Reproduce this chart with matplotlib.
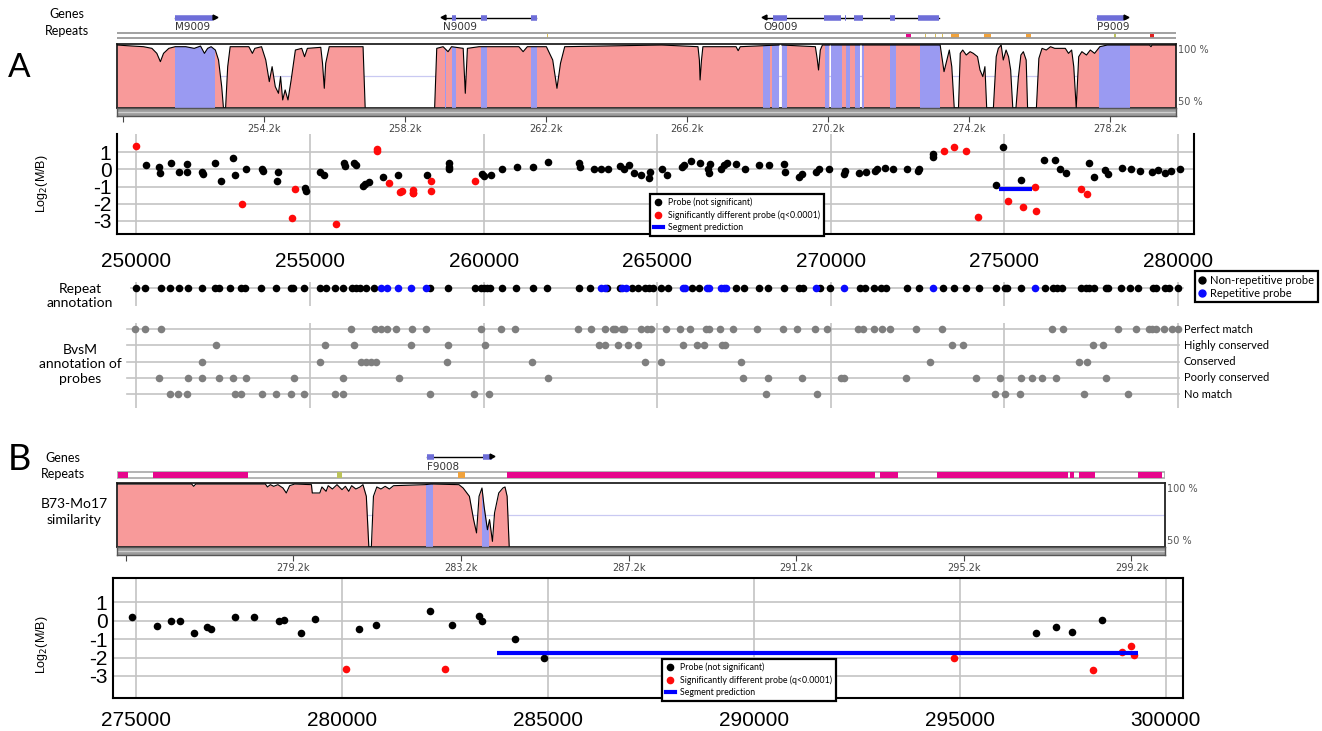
import matplotlib
matplotlib.use("Agg")
import matplotlib.pyplot as plt
from matplotlib.lines import Line2D
from matplotlib.patches import Rectangle
from matplotlib.path import Path
from matplotlib.transforms import blended_transform_factory
import numpy as np

plt.rcParams["font.family"] = ["Liberation Sans", "DejaVu Sans"]
plt.rcParams["axes.unicode_minus"] = False

nan = float("nan")

# ---------------- panel A : genome browser (kb) ----------------
genes_a = ["M9009", "N9009", "O9009", "P9009"]
gene_start_a = [251.68, 259.28, 268.37, 277.82]
gene_end_a = [252.81, 261.92, 273.34, 278.66]
gene_strand_a = [1, -1, -1, 1]
gene_exons_a = [
    [(251.68, 252.75)],
    [(259.53, 259.65), (260.36, 260.53), (261.77, 261.94)],
    [(268.64, 269.04), (270.08, 270.58), (270.68, 270.72), (270.94, 271.18),
     (271.96, 272.11), (272.76, 273.34)],
    [(277.82, 278.60)],
]
repeat_start_a = [262.23, 272.40, 272.94, 273.23, 273.42, 273.69, 274.63, 275.82, 278.32, 279.32]
repeat_end_a = [262.27, 272.56, 272.97, 273.26, 273.45, 273.91, 274.83, 275.95, 278.36, 279.44]
repeat_class_a = ["low", "mag", "low", "low", "low", "ora", "ora", "ora", "grn", "red"]

sim_a = [
    (250.04, 99.2), (250.30, 98.7), (250.78, 97.9), (251.02, 96.6), (251.16, 92.7),
    (251.26, 86.2), (251.35, 92.7), (251.50, 96.6), (251.68, 97.9), (251.98, 97.9),
    (252.22, 96.6), (252.40, 98.4), (252.51, 92.7), (252.60, 96.6), (252.70, 97.9),
    (252.82, 95.3), (252.91, 87.5), (253.00, 66.7), (253.05, 50), (253.11, 50),
    (253.17, 82.3), (253.24, 97.9), (253.77, 97.9), (253.87, 92.7), (253.94, 96.6),
    (254.13, 97.9), (254.25, 87.5), (254.35, 70.6), (254.43, 82.3), (254.52, 66.7),
    (254.61, 61.5), (254.67, 74.5), (254.73, 56.3), (254.80, 64.1), (254.88, 56.3),
    (254.97, 71.9), (255.09, 95.3), (255.27, 96.6), (255.35, 90.1), (255.43, 96.6),
    (255.81, 97.4), (255.86, 84.9), (255.91, 65.4), (255.95, 84.9), (256.05, 97.9),
    (257.01, 97.9), (257.07, 50), (258.0, nan), (259.04, 50), (259.10, 96.6),
    (259.28, 97.9), (259.42, 94.0), (259.52, 97.9), (259.85, 96.6), (259.91, 61.5),
    (259.97, 96.6), (260.30, 97.9), (261.43, 97.9), (261.55, 94.0), (261.67, 97.9),
    (262.21, 97.9), (262.39, 87.5), (262.51, 65.4), (262.61, 84.9), (262.73, 97.9),
    (265.48, 99.2), (266.51, 97.9), (266.55, 87.5), (266.57, 71.9), (266.61, 87.5),
    (266.65, 97.9), (267.59, 97.9), (267.65, 94.8), (267.71, 97.9), (268.81, 99.2),
    (268.85, nan), (268.89, 99.2), (269.84, 97.9), (269.89, 88.8), (269.93, 79.7),
    (269.98, 95.3), (270.04, 99.2), (270.24, 99.2), (270.26, nan), (270.28, 99.2),
    (271.11, 99.2), (271.13, nan), (271.16, 99.2), (273.09, 99.2), (273.38, 99.2),
    (273.49, 78.4), (273.57, 87.5), (273.64, 95.3), (273.71, 82.3), (273.78, 50),
    (273.90, 50), (273.95, 92.7), (274.02, 95.3), (274.12, 91.4), (274.23, 94.0),
    (274.32, 92.7), (274.44, 90.1), (274.51, 79.7), (274.59, 74.5), (274.65, 82.3),
    (274.70, 50), (274.89, 50), (274.97, 90.1), (275.03, 96.6), (275.11, 99.2),
    (275.17, 87.5), (275.25, 95.3), (275.32, 90.1), (275.38, 79.7), (275.44, 50),
    (275.53, 50), (275.60, 74.5), (275.67, 91.4), (275.74, 94.0), (275.82, 87.5),
    (275.86, 50), (276.11, 50), (276.18, 88.8), (276.27, 96.6), (276.39, 95.3),
    (276.51, 97.9), (276.63, 96.6), (276.93, 96.6), (277.02, 92.7), (277.11, 95.3),
    (277.17, 82.3), (277.24, 50), (277.31, 90.1), (277.40, 94.0), (277.53, 91.4),
    (277.64, 95.3), (277.76, 92.7), (277.91, 97.9), (278.12, 99.2), (279.32, 99.2),
    (279.36, 97.9), (279.39, 99.2), (280.07, 99.2),
]
exon_bands_a = [
    (251.68, 252.81), (259.33, 259.36), (259.53, 259.65), (260.36, 260.53),
    (261.77, 261.94), (268.35, 268.54), (268.62, 268.81), (268.89, 269.03),
    (270.10, 270.24), (270.28, 270.59), (270.71, 270.81), (270.97, 271.11),
    (271.16, 271.22), (271.96, 272.13), (272.81, 273.38), (277.89, 278.77),
]
gaps_a = [(257.07, 259.04)]
sim_ticks_a = [250.2, 254.2, 258.2, 262.2, 266.2, 270.2, 274.2, 278.2]
sim_labels_a = ["", "254.2k", "258.2k", "262.2k", "266.2k", "270.2k", "274.2k", "278.2k"]

# ---------------- panel A : probes ----------------
ns_x_a = [250265, 250660, 250680, 250990, 251230, 251470, 251470, 251890, 251930, 252280,
          252430, 252790, 252830, 253160, 253620, 253650, 254090, 254060, 254850, 254890,
          255300, 255400, 255990, 256010, 256280, 256320, 256520, 256580, 256700, 257100,
          257530, 258380, 259000, 259000, 259000, 259960, 260020, 260200, 260520, 260950,
          261430, 261850, 262760, 262780, 263180, 263380, 263580, 263940, 264030, 264200,
          264320, 264540, 264750, 264790,
          265145, 265270, 265700, 265760, 265975, 266220, 266470, 266490, 266510, 266830,
          266920, 267000, 267260, 267520, 267930, 268220, 268660, 268680, 269090, 269170,
          269560, 269660, 269960, 270370, 270420, 270820, 271000, 271280, 271340, 271550,
          271790, 272200, 272510, 272550, 272950, 272950, 274960, 274760, 275490, 276150,
          276450, 276590, 276760, 277430, 277590, 277900, 277990, 278380, 278650, 278890,
          279260, 279410, 279630, 279810, 280050]
ns_y_a = [0.25, 0.15, -0.2, 0.35, -0.15, 0.3, -0.15, -0.15, -0.25, 0.4,
          -0.65, 0.65, -0.3, 0.0, 0.0, -0.1, -0.15, -0.7, -1.1, -1.25,
          -0.15, -0.35, 0.4, 0.2, 0.35, 0.25, -0.95, -0.85, -0.72, -0.45,
          -0.35, -0.3, 0.35, 0.15, 0.05, -0.25, -0.4, -0.35, 0.05, 0.15,
          0.15, 0.45, 0.35, 0.15, 0.05, 0.05, 0.05, 0.2, 0.05, 0.25,
          -0.2, -0.3, -0.5, -0.15,
          0.05, -0.35, 0.15, 0.25, 0.5, 0.35, 0.05, -0.2, 0.3, 0.05,
          0.25, 0.4, 0.3, 0.0, 0.25, 0.25, 0.3, -0.15, -0.45, -0.25,
          -0.15, 0.0, 0.0, -0.25, -0.1, -0.2, -0.15, -0.1, 0.05, 0.1,
          0.05, 0.05, -0.1, 0.05, 0.9, 0.75, 1.3, -0.9, -0.6, 0.55,
          0.55, 0.0, -0.2, 0.4, -0.45, -0.05, -0.25, 0.1, 0.0, -0.1,
          -0.15, -0.05, -0.2, -0.1, 0.05]
sig_x_a = [250000, 253050, 254480, 254560, 255750, 256920, 256920, 257280, 257600, 257650,
           257980, 257980, 257980, 258500, 258500, 259750, 273260, 273540, 273900, 274230,
           275090, 275540, 275880, 275900, 277200, 277370]
sig_y_a = [1.35, -2.0, -2.8, -1.15, -3.15, 1.2, 1.05, -0.8, -1.3, -1.25,
           -1.2, -1.35, -1.4, -0.7, -1.25, -0.65, 1.05, 1.3, 1.05, -2.75,
           -1.85, -2.2, -1.0, -2.4, -1.15, -1.45]
segment_a = (274850, 275790, -1.15)
probe_ticks_a = [250000, 255000, 260000, 265000, 270000, 275000, 280000]

# repeat annotation of the probes
nonrep_x_a = [249980, 250241, 250699, 250964, 251241, 251482, 251904, 252253, 252374, 252711,
              253013, 253133, 253579, 254037, 254459, 254519, 254820, 255302, 255459, 255724,
              255965, 256206, 256326, 256447, 256603, 256844, 258459, 258977, 259761, 259917,
              260002, 260086, 260182, 260544, 260929, 261411, 261833, 262737, 263074, 263556,
              263918, 264279, 264460, 264641, 264761, 264882,
              265120, 265303, 265998, 266218, 267255, 267499, 267926, 268194, 268658, 269085,
              269207, 269695, 269976, 270854, 270976, 271244, 271440, 271586, 272196, 272538,
              273233, 273538, 273880, 274270, 274758, 275002, 275063, 275490, 276161, 276405,
              276527, 276649, 277198, 277344, 277442, 277564, 277930, 277991, 278357, 278601,
              278845, 279272, 279370, 279614, 279736, 280004]
rep_x_a = [257049, 257230, 257531, 257917, 258339, 263376, 263496, 263978, 264099,
           265730, 265791, 266438, 266486, 266828, 266926, 266974, 269573, 270366, 272928,
           275893]

# B vs M annotation of the probes
bvsm_rows = ["Perfect match", "Highly conserved", "Conserved", "Poorly conserved", "No match"]
perfect_x = [249976, 250241, 250699, 256182, 256869, 257049, 257230, 257471, 257953, 258339,
             259917, 260508, 260905, 262713, 263098, 263496, 263713, 263797, 263978, 264038,
             264520, 264701, 264822, 265242, 265669, 265950, 266401, 266486, 266804, 267170,
             267865, 268621, 269024, 269536, 269902, 270793, 270915, 271244, 271464, 271708,
             272464, 273196, 276368, 276686, 278272, 278784, 279150, 279248, 279370, 279601,
             279821, 280004]
highly_x = [252290, 255423, 256266, 257917, 258977, 260038, 263315, 263496, 263858, 264159,
            264460, 265730, 266157, 266340, 266852, 266950, 273501, 273806, 277540, 277832]
conserved_x = [251904, 255302, 256471, 256628, 256748, 256893, 258941, 261387, 264641,
               265120, 267414, 272867, 277137, 277381]
poorly_x = [250663, 251482, 251904, 252374, 252772, 253169, 254543, 255941, 257567, 261845,
            267462, 268194, 269183, 270305, 270390, 272172, 274172, 274880, 275490, 275795,
            276076, 276490, 277930]
nomatch_x = [250964, 251205, 251446, 252832, 253013, 253615, 254037, 254459, 254820, 255724,
             255965, 258471, 259736, 260158, 268146, 269610, 274721, 275026, 275453, 277296,
             278564]

# ---------------- panel B : genome browser (kb) ----------------
genes_b = ["F9008"]
gene_start_b = [282.39]
gene_end_b = [283.95]
gene_strand_b = [1]
gene_exons_b = [[(282.39, 282.56), (283.72, 283.95)]]
repeat_start_b = [275.01, 275.84, 280.24, 283.13, 284.30, 293.19, 294.57, 297.74, 297.94, 299.35]
repeat_end_b = [275.26, 278.11, 280.36, 283.30, 293.08, 293.64, 297.68, 297.84, 298.34, 299.93]
repeat_class_b = ["mag", "mag", "grn", "ora", "mag", "mag", "mag", "mag", "mag", "mag"]

sim_b = [
    (274.99, 99.2), (276.77, 99.2), (276.82, 97.4), (276.87, 99.2), (278.53, 99.2),
    (278.58, 96.9), (278.65, 98.7), (278.73, 97.4), (278.83, 98.7), (278.95, 96.1),
    (279.03, 92.2), (279.11, 97.9), (279.23, 99.2), (279.63, 98.7), (279.65, 92.2),
    (279.83, 92.2), (279.88, 96.9), (279.98, 93.5), (280.03, 97.9), (280.13, 95.3),
    (280.24, 98.7), (280.36, 94.8), (280.44, 97.4), (280.52, 93.5), (280.59, 97.9),
    (280.69, 95.3), (280.79, 96.9), (280.86, 98.7), (280.94, 89.6), (281.00, 50),
    (281.06, 50), (281.11, 89.6), (281.19, 96.9), (281.29, 95.3), (281.39, 97.4),
    (281.49, 95.3), (281.59, 97.9), (282.34, 98.7), (282.49, 99.2), (283.15, 98.7),
    (283.25, 96.1), (283.40, 89.6), (283.50, 71.4), (283.57, 61.0), (283.63, 89.6),
    (283.70, 96.1), (283.75, 81.8), (283.83, 63.5), (283.88, 71.4), (283.95, 54.4),
    (284.00, 76.6), (284.10, 92.2), (284.20, 96.1), (284.25, 96.9), (284.30, 89.6),
    (284.35, 50), (292.0, nan),
]
exon_bands_b = [(282.37, 282.52), (283.70, 283.86)]
gaps_b = [(284.35, 300.0)]
sim_ticks_b = [275.2, 279.2, 283.2, 287.2, 291.2, 295.2, 299.2]
sim_labels_b = ["", "279.2k", "283.2k", "287.2k", "291.2k", "295.2k", "299.2k"]

# ---------------- panel B : probes ----------------
ns_x_b = [274888, 275510, 275847, 276071, 276397, 276724, 276826, 277397, 277856, 278478,
          278590, 278998, 279335, 280406, 280834, 282130, 282670, 283333, 283405, 284200,
          284914, 296860, 297340, 297730, 298450]
ns_y_b = [0.18, -0.3, 0.0, 0.0, -0.65, -0.36, -0.44, 0.18, 0.18, -0.02,
          0.05, -0.69, 0.11, -0.44, -0.24, 0.53, -0.24, 0.27, 0.0, -0.98,
          -2.02, -0.69, -0.36, -0.62, 0.04]
sig_x_b = [280100, 282500, 294860, 298240, 298940, 299160, 299240]
sig_y_b = [-2.62, -2.62, -2.05, -2.66, -1.7, -1.38, -1.87]
segment_b = (283770, 299340, -1.75)
probe_ticks_b = [275000, 280000, 285000, 290000, 295000, 300000]

legend_labels = ["Probe (not significant)", "Significantly different probe (q<0.0001)",
                 "Segment prediction"]

# ---------------- styling ----------------
PINK = "#f89a9a"
BAND = "#9a9af2"
EXON = "#6e6ed8"
GRID = "#c4c4c4"
REPEAT_COLORS = {"mag": "#e6078c", "low": "#d9bf55", "ora": "#f0a23c",
                 "grn": "#bcc35a", "red": "#e02020"}
SMALL = ["Lato", "DejaVu Sans"]

W, H = 1322, 731
fig = plt.figure(figsize=(W / 100, H / 100), dpi=100)


def box(l, t, r, b):
    return fig.add_axes([l / W, 1 - b / H, (r - l) / W, (b - t) / H])


def put(x, y, s, **kw):
    fig.text(x / W, 1 - y / H, s, **kw)


def gene_track(ax, xlim, names, starts, ends, strands, exons, gene_y, label_y):
    ax.set_xlim(xlim)
    ax.axis("off")
    for name, s, e, st, ex in zip(names, starts, ends, strands, exons):
        ax.plot([s, e], [gene_y, gene_y], color="black", lw=1)
        for a, b in ex:
            ax.plot([a, b], [gene_y, gene_y], color=EXON, lw=4, solid_capstyle="butt")
        tip = e if st > 0 else s
        ax.plot(tip, gene_y - 1.5, marker=">" if st > 0 else "<", color="black", ms=3.5)
        ax.text(s, label_y, name, fontsize=7.5, family="DejaVu Sans", color="#333",
                va="center", ha="left")


def similarity(l, t, r, b, xlim, curve, bands, gaps, ticks, labels):
    ax = box(l, t, r, b)
    ax.set_xlim(xlim)
    ax.set_ylim(50, 100)
    x, y = np.array(curve).T
    ax.axhline(75, color="#c9c9f2", lw=0.9, zorder=1)
    pink = ax.fill_between(x, 50, y, color=PINK, lw=0, zorder=2)
    clip = Path.make_compound_path(*pink.get_paths())
    for a, c in bands:
        span = ax.axvspan(a, c, color=BAND, lw=0, zorder=3)
        span.set_clip_path(clip, ax.transData)
    ax.plot(x, y, color="black", lw=0.8, zorder=4)
    ax.set_xticks([])
    ax.set_yticks([])
    for sp in ax.spines.values():
        sp.set_linewidth(1.3)
        sp.set_color("#222")
    bar = box(l, b, r, b + 8)
    bar.set_xlim(xlim)
    bar.set_ylim(0, 1)
    bar.set_facecolor("#9c9c9c")
    bar.axhline(0.5, color="#cfcfcf", lw=1)
    for sp in bar.spines.values():
        sp.set_color("#555")
        sp.set_linewidth(1)
    bar.set_yticks([])
    bar.set_xticks(ticks, labels)
    bar.tick_params(axis="x", length=4, width=0.8, color="#444", labelsize=7,
                    labelcolor="#444", pad=1.5)
    for lab in bar.get_xticklabels():
        lab.set_family("DejaVu Sans")
    put(r + 2, t + 6, "100 %", fontsize=7, color="#555", va="center", family="DejaVu Sans")
    put(r + 2, b - 6, "50 %", fontsize=7, color="#555", va="center", family="DejaVu Sans")
    return ax


def probes(l, t, r, b, xlim, ylim, ticks, bx, by, rx, ry, seg, top, xpad, legend_at):
    ax = box(l, t, r, b)
    ax.set_xlim(xlim)
    ax.set_ylim(ylim)
    ax.set_xticks(ticks)
    ax.set_yticks([-3, -2, -1, 0, 1])
    ax.grid(True, color=GRID, lw=1.2)
    ax.set_axisbelow(True)
    ax.tick_params(length=0, labelsize=15)
    ax.tick_params(axis="x", pad=xpad)
    ax.tick_params(axis="y", pad=4)
    ax.scatter(bx, by, s=30, color="black", lw=0, zorder=3)
    ax.scatter(rx, ry, s=30, color="#ff0a0a", lw=0, zorder=3)
    ax.plot(seg[:2], [seg[2], seg[2]], color="#0000ff", lw=3, solid_capstyle="butt", zorder=4)
    for sp in ax.spines.values():
        sp.set_linewidth(1.5)
    ax.spines["top"].set_visible(top)
    handles = [Line2D([], [], marker="o", ls="none", color="black", ms=4.5),
               Line2D([], [], marker="o", ls="none", color="#ff0a0a", ms=4.5),
               Line2D([], [], color="#0000ff", lw=3)]
    leg = ax.legend(handles, legend_labels, loc="upper left",
                    bbox_to_anchor=(legend_at[0] / W, 1 - legend_at[1] / H),
                    bbox_transform=fig.transFigure, prop={"family": SMALL, "size": 6.3},
                    fancybox=False, edgecolor="black", framealpha=1, handlelength=1.0,
                    handletextpad=0.6, borderpad=0.45, labelspacing=0.35, borderaxespad=0)
    leg.get_frame().set_linewidth(1.6)
    return ax


# ---------------- panel A ----------------
xlim_sim_a = (250.03, 280.07)
trk = box(117, 4, 1176, 43)
trk.set_ylim(43, 4)
gene_track(trk, xlim_sim_a, genes_a, gene_start_a, gene_end_a, gene_strand_a,
           gene_exons_a, 18, 27)
trk.hlines([33, 38], *xlim_sim_a, color="#9a9a9a", lw=1.3)
for s, e, c in zip(repeat_start_a, repeat_end_a, repeat_class_a):
    trk.add_patch(Rectangle((s, 33.5), e - s, 4, color=REPEAT_COLORS[c], lw=0))

sim = similarity(117, 44, 1176, 108, xlim_sim_a, sim_a, exon_bands_a, gaps_a,
                 sim_ticks_a, sim_labels_a)

xlim_probe_a = (249444, 280458)
pa = probes(117, 134, 1194, 234, xlim_probe_a, (-3.76, 2.06), probe_ticks_a,
            ns_x_a, ns_y_a, sig_x_a, sig_y_a, segment_a, False, 13, (650, 194))

rep = box(117, 282, 1194, 306)
rep.set_xlim(xlim_probe_a)
rep.set_ylim(18, -6)
rep.axis("off")
rep.axhline(0, xmin=0.013, xmax=0.99, color=GRID, lw=1.2, zorder=1)
for v in probe_ticks_a:
    rep.axvline(v, color=GRID, lw=1.2, zorder=1)
rep.scatter(nonrep_x_a, [0] * len(nonrep_x_a), s=30, color="black", lw=0, zorder=3)
rep.scatter(rep_x_a, [0] * len(rep_x_a), s=30, color="#0a0aff", lw=0, zorder=3)
rleg = rep.legend([Line2D([], [], marker="o", ls="none", color="black", ms=5),
                   Line2D([], [], marker="o", ls="none", color="#0a0aff", ms=5)],
                  ["Non-repetitive probe", "Repetitive probe"], loc="upper left",
                  bbox_to_anchor=(1195 / W, 1 - 271 / H), bbox_transform=fig.transFigure,
                  prop={"family": SMALL, "size": 8}, fancybox=False, edgecolor="black",
                  framealpha=1, handlelength=0.6, handletextpad=0.4, borderpad=0.35,
                  labelspacing=0.15, borderaxespad=0)
rleg.get_frame().set_linewidth(1.6)

bv = box(117, 323, 1194, 408)
bv.set_xlim(xlim_probe_a)
bv.set_ylim(4.86, -0.37)
bv.axis("off")
for v in probe_ticks_a:
    bv.axvline(v, color=GRID, lw=1.2, zorder=1)
row_tf = blended_transform_factory(bv.transAxes, bv.transData)
for i, (name, xs) in enumerate(zip(bvsm_rows, [perfect_x, highly_x, conserved_x,
                                                 poorly_x, nomatch_x])):
    bv.axhline(i, xmin=0.009, xmax=0.986, color=GRID, lw=1.2, zorder=1)
    bv.scatter(xs, [i] * len(xs), s=30, color="#7f7f7f", lw=0, zorder=3)
    bv.text(0.9907, i, name, transform=row_tf, fontsize=8, family=SMALL,
            va="center", ha="left")

put(19, 68, "A", fontsize=24, family=SMALL, va="center", ha="center")
put(67, 14, "Genes", fontsize=9, family=SMALL, va="center", ha="center")
put(67, 31, "Repeats", fontsize=9, family=SMALL, va="center", ha="center")
put(42, 184, r"Log$_2$(M/B)", fontsize=9, rotation=90, va="center", ha="center")
put(80, 296, "Repeat\nannotation", fontsize=10, family=SMALL, va="center", ha="center",
    linespacing=1.25)
put(80, 364, "BvsM\nannotation of\nprobes", fontsize=10, family=SMALL, va="center",
    ha="center", linespacing=1.25)

# ---------------- panel B ----------------
xlim_sim_b = (274.99, 300.0)
trk_b = box(117, 447, 1165, 482)
trk_b.set_ylim(482, 447)
gene_track(trk_b, xlim_sim_b, genes_b, gene_start_b, gene_end_b, gene_strand_b,
           gene_exons_b, 457, 467)
trk_b.add_patch(Rectangle((xlim_sim_b[0], 472), xlim_sim_b[1] - xlim_sim_b[0], 6,
                          facecolor="white", edgecolor="#a8a8a8", lw=1.2))
for s, e, c in zip(repeat_start_b, repeat_end_b, repeat_class_b):
    trk_b.add_patch(Rectangle((s, 472), e - s, 6, color=REPEAT_COLORS[c], lw=0))

sim_b_ax = similarity(117, 483, 1165, 547, xlim_sim_b, sim_b, exon_bands_b, gaps_b,
                      sim_ticks_b, sim_labels_b)

xlim_probe_b = (274434, 300425)
pb = probes(113, 578, 1183, 698, xlim_probe_b, (-4.2, 2.32), probe_ticks_b,
            ns_x_b, ns_y_b, sig_x_b, sig_y_b, segment_b, True, 9, (662, 659))

put(19, 459, "B", fontsize=26, family=SMALL, va="center", ha="center")
put(63, 458, "Genes", fontsize=9, family=SMALL, va="center", ha="center")
put(63, 474, "Repeats", fontsize=9, family=SMALL, va="center", ha="center")
put(74, 512, "B73-Mo17\nsimilarity", fontsize=10, family=SMALL, va="center",
    ha="center", linespacing=1.3)
put(42, 645, r"Log$_2$(M/B)", fontsize=9, rotation=90, va="center", ha="center")

fig.savefig("out.png", dpi=100, facecolor="white")
